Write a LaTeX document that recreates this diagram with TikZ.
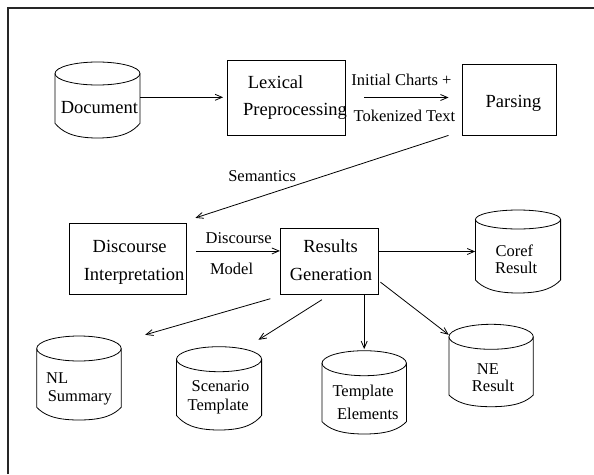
\documentclass[tikz,border=0pt]{standalone}
\usepackage{fontspec}
\setmainfont{Liberation Serif}
\usetikzlibrary{arrows.meta}
\tikzset{
  ln/.style={line width=0.8pt, black},
  arr/.style={ln, -{Straight Barb[length=7pt,width=6pt]}},
  box/.style={ln, draw, rectangle, inner sep=0pt},
  big/.style={font=\fontsize{18.5}{20}\selectfont, inner sep=0pt, anchor=base},
  small/.style={font=\fontsize{16.5}{18}\selectfont, inner sep=0pt, anchor=base},
  frame/.style={line width=2pt, black!85},
}
% #1 name, #2 x1, #3 x2, #4 ytop, #5 ry, #6 ysides, #7 ybottom
\newcommand\drum[7]{%
  \pgfmathsetmacro\dcx{(#2+#3)/2}%
  \pgfmathsetmacro\drx{(#3-#2)/2}%
  \pgfmathsetmacro\dcy{#4+#5}%
  \pgfmathsetmacro\dw{#3-#2}%
  \pgfmathsetmacro\dh{#7-#4}%
  \pgfmathsetmacro\dmy{(#4+#7)/2}%
  \pgfmathsetmacro\dca{#2+0.08*\dw}%
  \pgfmathsetmacro\dcb{#6+0.55*(#7-#6)}%
  \pgfmathsetmacro\dcc{\dcx-0.3*\dw}%
  \pgfmathsetmacro\dcd{\dcx+0.3*\dw}%
  \pgfmathsetmacro\dce{#3-0.08*\dw}%
  \node[inner sep=0pt, minimum width=\dw pt, minimum height=\dh pt] (#1) at (\dcx,\dmy) {};
  \draw[ln] (\dcx,\dcy) ellipse [x radius=\drx pt, y radius=#5pt];
  \draw[ln] (#2,\dcy) -- (#2,#6) .. controls (\dca,\dcb) and (\dcc,#7) .. (\dcx,#7)
     .. controls (\dcd,#7) and (\dce,\dcb) .. (#3,#6) -- (#3,\dcy);
}
\begin{document}
\begin{tikzpicture}[x=1pt,y=-1pt]
\useasboundingbox (0,0) rectangle (594,474);
\draw[frame] (8.3,474) -- (8.3,8.3) -- (594,8.3);

% boxes
\node[box, minimum width=118.5pt, minimum height=75pt] (lex) at (286.25,97.5) {};
\node[box, minimum width=94.8pt, minimum height=70.7pt] (parse) at (509.4,99.65) {};
\node[box, minimum width=117.4pt, minimum height=70.7pt] (disc) at (128,258.65) {};
\node[box, minimum width=97.7pt, minimum height=65.7pt] (res) at (329.15,261.15) {};

% cylinders
\drum{doc}{55}{140}{62}{11.5}{123.3}{138}
\drum{coref}{475.4}{560.6}{210}{9.5}{280}{293}
\drum{nl}{36.7}{121.2}{336}{12.5}{407.3}{420}
\drum{scen}{176.5}{261.6}{346.7}{12.5}{415.5}{430}
\drum{tmpl}{322}{406.4}{350.7}{12.5}{421.7}{434}
\drum{ne}{448.9}{533.3}{324.3}{12.5}{395}{406.7}

% texts
\node[big] (tdoc) at (99.4,113) {Document};
\node[big] (tlex1) at (275.6,88) {Lexical};
\node[big] (tlex2) at (295,115) {Preprocessing};
\node[big] (tparse) at (513.4,107) {Parsing};
\node[big] (tdisc1) at (129.7,252.7) {Discourse};
\node[big] (tdisc2) at (134.1,280) {Interpretation};
\node[big] (tres1) at (330.5,252.7) {Results};
\node[big] (tres2) at (330.9,280) {Generation};

\node[small] (lini) at (401.5,85) {Initial Charts +};
\node[small] (ltok) at (404.4,121.7) {Tokenized Text};
\node[small] (lsem) at (262.2,181.7) {Semantics};
\node[small] (ldm1) at (238.6,243.3) {Discourse};
\node[small] (ldm2) at (231.6,274.3) {Model};

\node[small] (tco1) at (514.4,256.7) {Coref};
\node[small] (tco2) at (516.1,273.3) {Result};
\node[small] (tnl1) at (57.2,383.3) {NL};
\node[small] (tnl2) at (79.9,401.7) {Summary};
\node[small] (tsc1) at (220.5,391.7) {Scenario};
\node[small] (tsc2) at (218.2,410) {Template};
\node[small] (ttm1) at (363.1,396.7) {Template};
\node[small] (ttm2) at (367.8,419.3) {Elements};
\node[small] (tne1) at (487.9,374) {NE};
\node[small] (tne2) at (493,391) {Result};

% connectors
\draw[arr, shorten >=3.5pt] ([yshift=2.7pt]doc.east) -- ([yshift=2.7pt]doc.east -| lex.west);
\draw[arr, shorten <=18.1pt, shorten >=13.1pt] (lex.east) -- (lex.east -| parse.west);
\draw[arr] ([xshift=-13.1pt]parse.south west) -- ([xshift=8.3pt,yshift=5pt]disc.north east);
\draw[arr] ([xshift=9.1pt,yshift=7.7pt]disc.east) -- ([yshift=7.7pt]disc.east -| res.west);
\draw[arr] (res.east |- coref.west) -- (coref.west);
\draw[arr] ([xshift=-9.5pt,yshift=-4.3pt]res.south west) -- ([xshift=23.8pt,yshift=1pt]nl.north east);
\draw[arr] ([xshift=-7.2pt,yshift=-5.3pt]res.south) -- ([xshift=-3.3pt,yshift=6.7pt]scen.north east);
\draw[arr] (res.south -| tmpl.north) -- ([yshift=1.4pt]tmpl.north);
\draw[arr] ([xshift=2pt,yshift=12.3pt]res.south east) -- ([yshift=-10.7pt]ne.north west);
\end{tikzpicture}
\end{document}
